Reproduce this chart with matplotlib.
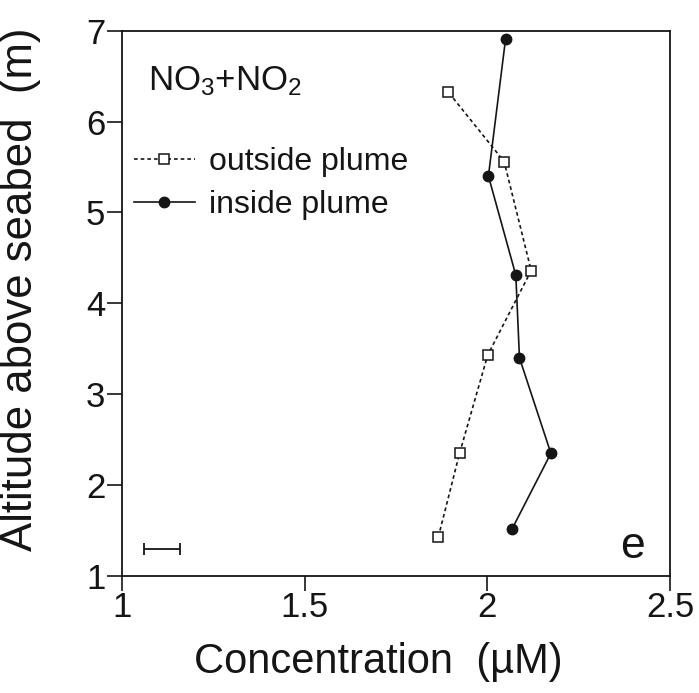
import matplotlib
matplotlib.use("Agg")
import matplotlib.pyplot as plt

plt.rcParams["font.family"] = ["Liberation Sans", "DejaVu Sans"]
plt.rcParams["mathtext.fontset"] = "custom"
plt.rcParams["mathtext.rm"] = "Liberation Sans"
plt.rcParams["mathtext.it"] = "Liberation Sans:italic"

# NO3+NO2 concentration profiles (µM) against altitude above the seabed (m)
outside_conc = [1.866, 1.924, 2.001, 2.120, 2.046, 1.892]
outside_alt = [1.43, 2.35, 3.43, 4.36, 5.56, 6.33]
inside_conc = [2.068, 2.174, 2.088, 2.078, 2.003, 2.050]
inside_alt = [1.52, 2.35, 3.40, 4.31, 5.40, 6.91]

# representative analytical error bar
err_conc = [1.11]
err_alt = [1.30]
err_half = [0.05]

x_ticks = [1, 1.5, 2, 2.5]
x_tick_labels = ["1", "1.5", "2", "2.5"]
y_ticks = [1, 2, 3, 4, 5, 6, 7]
y_tick_labels = ["1", "2", "3", "4", "5", "6", "7"]

ink = "#151515"

fig = plt.figure(figsize=(6.99, 6.93), dpi=100)
ax = fig.add_axes([0.1745, 0.1688, 0.784, 0.787])

ax.plot(outside_conc, outside_alt, linestyle=(0, (2.2, 1.8)), lw=1.2, color=ink,
        marker="s", ms=7.5, mfc="white", mec=ink, mew=1.1,
        label="outside plume", clip_on=False, zorder=3)
ax.plot(inside_conc, inside_alt, linestyle="-", lw=1.2, color=ink,
        marker="o", ms=7.5, mfc=ink, mec=ink,
        label="inside plume", clip_on=False, zorder=3)
ax.errorbar(err_conc, err_alt, xerr=err_half, fmt="none", ecolor=ink,
            elinewidth=1.3, capsize=4.5, capthick=1.3)

ax.set_xlim(1, 2.5)
ax.set_ylim(1, 7)
ax.set_xticks(x_ticks)
ax.set_xticklabels(x_tick_labels)
ax.set_yticks(y_ticks)
ax.set_yticklabels(y_tick_labels)
ax.tick_params(axis="both", direction="out", length=10.5, width=1.2,
               labelsize=25, colors=ink)
ax.tick_params(axis="x", pad=0.5)
ax.tick_params(axis="y", pad=1.5)

for sp in ax.spines.values():
    sp.set_linewidth(1.3)
    sp.set_color(ink)

ax.set_xlabel("Concentration  (µM)", fontsize=30, color=ink, va="center")
ax.xaxis.set_label_coords(0.467, -0.158)
ax.set_ylabel("Altitude above seabed  (m)", fontsize=31.5, color=ink, va="center")
ax.yaxis.set_label_coords(-0.185, 0.525)

ax.text(0.047, 0.89, r"NO$_3$+NO$_2$", transform=ax.transAxes,
        fontsize=25, color=ink, ha="left", va="baseline")
ax.text(0.954, 0.033, "e", transform=ax.transAxes,
        fontsize=32, color=ink, ha="right", va="baseline")

ax.legend(loc="upper left", bbox_to_anchor=(0.022, 0.787), frameon=False,
          fontsize=23, handlelength=1.9, handletextpad=0.45,
          labelspacing=0.42, borderaxespad=0, borderpad=0, labelcolor=ink)

fig.savefig("out.png", dpi=100, facecolor="white")
